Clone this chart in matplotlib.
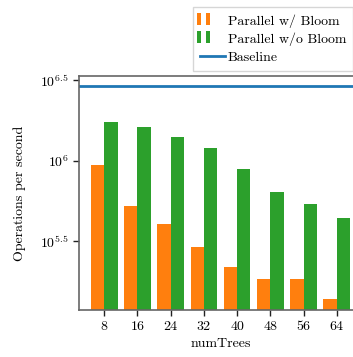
import numpy as np
import matplotlib
matplotlib.use("Agg")
import matplotlib.pyplot as plt
from matplotlib.patches import Rectangle
from matplotlib.legend_handler import HandlerBase
from matplotlib.container import BarContainer

plt.rcParams['font.family'] = 'serif'
plt.rcParams['font.serif'] = ['cmr10']
plt.rcParams['mathtext.fontset'] = 'cm'
plt.rcParams['axes.unicode_minus'] = False
plt.rcParams['axes.formatter.use_mathtext'] = True

categories = ['8', '16', '24', '32', '40', '48', '56', '64']
# log10 of operations per second
with_bloom_log = [5.973, 5.718, 5.606, 5.463, 5.339, 5.264, 5.264, 5.139]
without_bloom_log = [6.241, 6.210, 6.148, 6.079, 5.948, 5.805, 5.730, 5.643]
baseline_log = 6.463

with_bloom = 10 ** np.array(with_bloom_log)
without_bloom = 10 ** np.array(without_bloom_log)
baseline = 10 ** baseline_log

fig = plt.figure(figsize=(3.53, 3.57), dpi=100)
ax = fig.add_axes([79/353, 1 - 310/357, (362 - 79)/353, (310 - 75.7)/357])

x = np.arange(len(categories))
w = 0.4
ax.bar(x - w/2, with_bloom, w, color='#ff7f0e', label='Parallel w/ Bloom')
ax.bar(x + w/2, without_bloom, w, color='#2ca02c', label='Parallel w/o Bloom')
ax.axhline(baseline, color='#1f77b4', lw=2, label='Baseline')

ax.set_yscale('log')
ax.set_ylim(10**5.070, 10**6.529)
ax.set_xlim(-0.76, 7.76)
ax.set_yticks([10**5.5, 10**6, 10**6.5])
ax.set_yticklabels([r'$10^{5.5}$', r'$10^{6}$', r'$10^{6.5}$'])
ax.yaxis.set_minor_locator(matplotlib.ticker.NullLocator())
ax.set_xticks(x)
ax.set_xticklabels(categories)
ax.tick_params(labelsize=10, length=4, width=1, color='#222222')
for s in ax.spines.values():
    s.set_color('#666666')
    s.set_linewidth(1.2)
ax.set_xlabel('numTrees', fontsize=10)
ax.set_ylabel('Operations per second', fontsize=10, labelpad=10)


class TwoBarHandler(HandlerBase):
    def create_artists(self, legend, orig_handle, xdescent, ydescent, width, height, fontsize, trans):
        c = orig_handle.patches[0].get_facecolor()
        bh = 8.6
        y0 = -ydescent + height / 2 + 0.6 - bh / 2
        r1 = Rectangle((-2.2, y0), 2.7, bh, facecolor=c, edgecolor='none', transform=trans)
        r2 = Rectangle((4.1, y0), 2.9, bh, facecolor=c, edgecolor='none', transform=trans)
        return [r1, r2]

handles, labels = ax.get_legend_handles_labels()
order = [1, 2, 0]
handles = [handles[i] for i in order]
labels = [labels[i] for i in order]
leg = fig.legend(handles, labels, loc='upper left', bbox_to_anchor=(193.3/353, 1 - 7.3/357),
                 fontsize=10, frameon=True, fancybox=False, edgecolor='#cccccc',
                 handler_map={BarContainer: TwoBarHandler()}, handlelength=1.8,
                 borderpad=0.5, labelspacing=0.35, handletextpad=0.2, borderaxespad=0)
leg.get_frame().set_linewidth(1.0)

fig.savefig('out.png', dpi=100)
